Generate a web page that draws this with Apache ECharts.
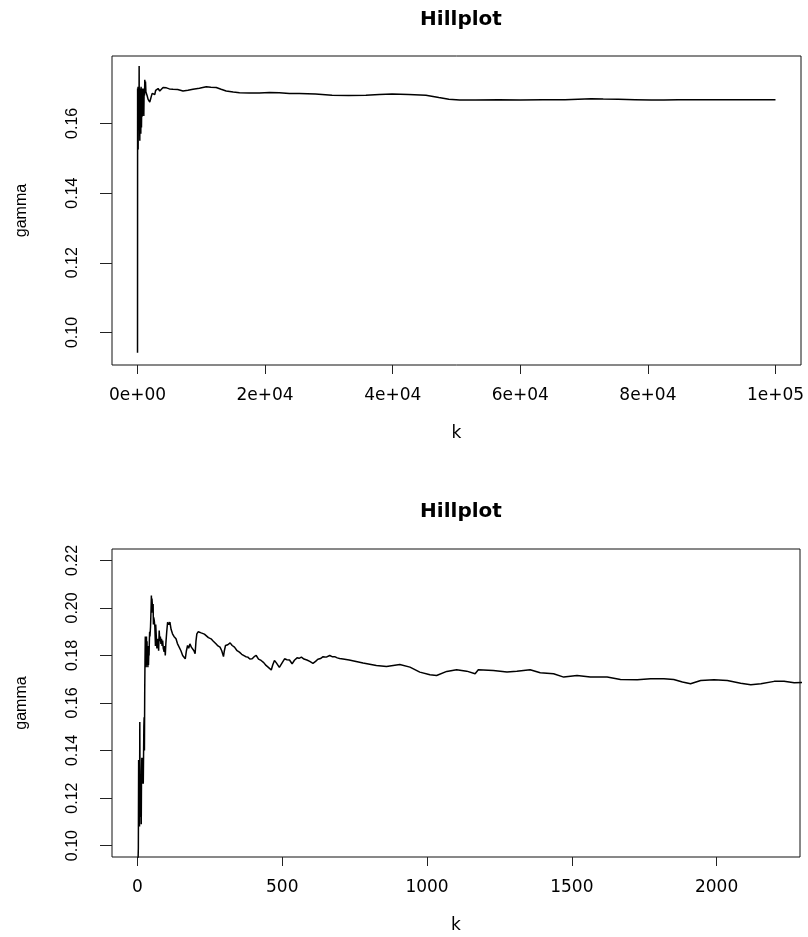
<!DOCTYPE html>
<html>
<head>
<meta charset="utf-8">
<script src="https://cdn.jsdelivr.net/npm/echarts@6/dist/echarts.min.js"></script>
<style>
html,body{margin:0;padding:0;background:#fff;}
#chart{width:808px;height:937px;}
</style>
</head>
<body>
<div id="chart"></div>
<script>
// ---------- data ----------
const titleText = 'Hillplot';
const xName = 'k';
const yName = 'gamma';

// Top panel: k = 1 .. 100000
const topK = [1, 15, 30, 45, 60, 80, 100, 130, 160, 200, 230, 255, 280, 320, 360, 400, 440, 480, 520, 560,
  620, 680, 740, 800, 870, 932, 990, 1040, 1100, 1141, 1200, 1250, 1320, 1401, 1500, 1662, 1800, 1922, 2050, 2182,
  2300, 2443, 2580, 2703, 2850, 2964, 3100, 3224, 3350, 3484, 3700, 4005, 4300, 4526, 5000, 5568, 6300, 7130, 7900, 8692,
  9700, 10776, 11500, 12338, 13100, 13900, 15000, 15984, 17500, 19109, 20700, 22233, 23800, 25358, 27900, 30500, 33100, 35800, 37900, 39900,
  42500, 45200, 47230, 48800, 50500, 53000, 56600, 60000, 63500, 67000, 71140, 73000, 75360, 78000, 80510, 82500, 84730, 88000, 92000, 96000, 100000];
const topGamma = [0.0942, 0.1700, 0.1540, 0.1690, 0.1560, 0.1705, 0.1525, 0.1680, 0.1580, 0.1700, 0.1600, 0.1765, 0.1620, 0.1690, 0.1550, 0.1700, 0.1600, 0.1690, 0.1570, 0.1705,
  0.1588, 0.1680, 0.1620, 0.1700, 0.1650, 0.1690, 0.1621, 0.1700, 0.1680, 0.1725, 0.1700, 0.1720, 0.1690, 0.1688, 0.1680, 0.1669, 0.1665, 0.1661, 0.1670, 0.1679,
  0.1686, 0.1690, 0.1686, 0.1683, 0.1695, 0.1700, 0.1698, 0.1700, 0.1696, 0.1693, 0.1698, 0.1703, 0.1700, 0.1702, 0.1699, 0.1698, 0.1697, 0.1693, 0.1695, 0.1698,
  0.1701, 0.1705, 0.1704, 0.1703, 0.1698, 0.1693, 0.1690, 0.1688, 0.1687, 0.1687, 0.1689, 0.1688, 0.1686, 0.1686, 0.1684, 0.1681, 0.1680, 0.1681, 0.1683, 0.1684,
  0.1683, 0.1681, 0.1674, 0.1669, 0.1667, 0.1667, 0.1668, 0.1667, 0.1668, 0.1668, 0.1671, 0.1670, 0.1669, 0.1668, 0.1667, 0.1667, 0.1668, 0.1668, 0.1668, 0.1668, 0.1668];

// Bottom panel: zoom on k = 0 .. 2200
const botK = [1, 2, 3, 4, 5, 6, 7, 8, 9, 10, 11, 12, 13, 14, 15, 16, 17, 18, 19, 20,
  21, 22, 23, 24, 25, 26, 27, 28, 29, 30, 31, 32, 33, 34, 35, 36, 37, 38, 39, 40,
  41, 42, 43, 45, 47, 48, 49, 50, 52, 54, 55, 56, 58, 60, 62, 63, 65, 67, 69, 71,
  73, 75, 77, 79, 81, 83, 85, 87, 89, 92, 94, 96, 98, 101, 104, 108, 112, 116, 121, 126,
  133, 138, 144, 150, 156, 161, 165, 169, 173, 177, 181, 186, 190, 195, 199, 202, 205, 210, 214, 220,
  225, 231, 237, 245, 254, 262, 271, 278, 285, 291, 297, 300, 304, 312, 320, 327, 335, 344, 352, 360,
  366, 374, 381, 388, 396, 403, 410, 418, 427, 436, 444, 452, 462, 467, 473, 479, 485, 490, 493, 500,
  508, 516, 525, 534, 542, 551, 558, 566, 575, 585, 595, 606, 615, 623, 632, 641, 652, 664, 672, 681,
  690, 698, 710, 731, 779, 825, 860, 906, 941, 975, 1010, 1033, 1068, 1102, 1137, 1166, 1177, 1229, 1276, 1310,
  1356, 1391, 1437, 1472, 1518, 1564, 1622, 1668, 1726, 1772, 1818, 1852, 1882, 1910, 1945, 1991, 2037, 2083, 2118, 2153,
  2199, 2233, 2268, 2300, 2330];
const botGamma = [0.085, 0.094, 0.099, 0.136, 0.118, 0.128, 0.108, 0.152, 0.120, 0.130, 0.112, 0.125, 0.109, 0.131, 0.137, 0.126, 0.135, 0.128, 0.137, 0.126,
  0.138, 0.150, 0.154, 0.140, 0.165, 0.178, 0.188, 0.178, 0.186, 0.175, 0.188, 0.177, 0.186, 0.176, 0.183, 0.175, 0.184, 0.176, 0.181, 0.180,
  0.186, 0.190, 0.188, 0.192, 0.200, 0.2052, 0.198, 0.204, 0.200, 0.2017, 0.193, 0.196, 0.1947, 0.192, 0.184, 0.193, 0.188, 0.183, 0.1828, 0.187,
  0.182, 0.1905, 0.186, 0.188, 0.1849, 0.187, 0.184, 0.1863, 0.183, 0.1815, 0.184, 0.180, 0.185, 0.190, 0.194, 0.193, 0.194, 0.191, 0.1891, 0.188,
  0.187, 0.185, 0.1842, 0.182, 0.180, 0.1795, 0.1786, 0.182, 0.1842, 0.183, 0.1849, 0.1835, 0.1835, 0.182, 0.1807, 0.186, 0.1891, 0.190, 0.1905, 0.1895,
  0.1902, 0.189, 0.1884, 0.1875, 0.187, 0.186, 0.1849, 0.184, 0.1835, 0.182, 0.1795, 0.182, 0.1842, 0.1845, 0.1853, 0.1842, 0.1835, 0.182, 0.1814, 0.1805,
  0.180, 0.1795, 0.1793, 0.1785, 0.1786, 0.1795, 0.180, 0.1785, 0.1779, 0.177, 0.1758, 0.175, 0.1739, 0.176, 0.1779, 0.177, 0.1762, 0.175, 0.1748, 0.177,
  0.1786, 0.1782, 0.1781, 0.1765, 0.178, 0.179, 0.1788, 0.1793, 0.1785, 0.1781, 0.1775, 0.1767, 0.1775, 0.1784, 0.1787, 0.1795, 0.1793, 0.180, 0.1795, 0.1795,
  0.179, 0.1787, 0.1785, 0.1781, 0.1768, 0.1758, 0.1754, 0.1762, 0.1751, 0.173, 0.1719, 0.1716, 0.1733, 0.174, 0.1734, 0.1723, 0.174, 0.1737, 0.173, 0.1734,
  0.174, 0.1727, 0.1723, 0.1709, 0.1716, 0.1709, 0.1709, 0.1699, 0.1698, 0.1702, 0.1702, 0.1699, 0.1688, 0.1681, 0.1695, 0.1698, 0.1695, 0.1683, 0.1677, 0.1681,
  0.1691, 0.1692, 0.1685, 0.1686, 0.1684];

// Tick values and labels
const topXTicks = [0, 20000, 40000, 60000, 80000, 100000];
const topXLabels = ['0e+00', '2e+04', '4e+04', '6e+04', '8e+04', '1e+05'];
const topYTicks = [0.10, 0.12, 0.14, 0.16];
const botXTicks = [0, 500, 1000, 1500, 2000];
const botXLabels = ['0', '500', '1000', '1500', '2000'];
const botYTicks = [0.10, 0.12, 0.14, 0.16, 0.18, 0.20, 0.22];

// ---------- chart ----------
const zip = (a, b) => a.map((v, i) => [v, b[i]]);
const topData = zip(topK, topGamma);
const botData = zip(botK, botGamma);

const hFont = 'DejaVu Sans';
const vFont = 'Liberation Sans';

function xAxisCfg(gridIndex, min, max, ticks, labels) {
  return {
    type: 'value', gridIndex, min, max,
    name: xName, nameLocation: 'middle', nameGap: 60,
    nameTextStyle: { fontFamily: hFont, fontSize: 17, color: '#000' },
    axisLine: { show: false, onZero: false },
    axisTick: { show: true, inside: false, length: 9, customValues: ticks, lineStyle: { color: '#222', width: 1 } },
    axisLabel: { show: true, customValues: ticks, margin: 22, fontFamily: hFont, fontSize: 17, color: '#000',
      formatter: v => { const i = ticks.findIndex(t => Math.abs(t - v) < 1e-9); return i >= 0 ? labels[i] : ''; } },
    splitLine: { show: false }
  };
}
function yAxisCfg(gridIndex, min, max, ticks) {
  return {
    type: 'value', gridIndex, min, max,
    name: yName, nameLocation: 'middle', nameGap: 82,
    nameTextStyle: { fontFamily: vFont, fontSize: 16, color: '#000' },
    axisLine: { show: false, onZero: false },
    axisTick: { show: true, inside: false, length: 12, customValues: ticks, lineStyle: { color: '#222', width: 1 } },
    axisLabel: { show: true, customValues: ticks, rotate: 90, margin: 31, fontFamily: vFont, fontSize: 16, color: '#000',
      formatter: v => v.toFixed(2) },
    splitLine: { show: false }
  };
}

const chart = echarts.init(document.getElementById('chart'), null, { renderer: 'canvas' });
chart.setOption({
  animation: false,
  backgroundColor: '#fff',
  title: [
    { text: titleText, left: 456, top: 5, textAlign: 'center',
      textStyle: { fontFamily: hFont, fontWeight: 'bold', fontSize: 20, color: '#000' } },
    { text: titleText, left: 456, top: 497, textAlign: 'center',
      textStyle: { fontFamily: hFont, fontWeight: 'bold', fontSize: 20, color: '#000' } }
  ],
  grid: [
    { left: 112, right: 7, top: 56, height: 309, show: true, borderColor: '#111', borderWidth: 1, backgroundColor: 'transparent' },
    { left: 112, right: 8, top: 549, height: 308, show: true, borderColor: '#111', borderWidth: 1, backgroundColor: 'transparent' }
  ],
  xAxis: [
    xAxisCfg(0, -3999, 103999, topXTicks, topXLabels),
    xAxisCfg(1, -88, 2288, botXTicks, botXLabels)
  ],
  yAxis: [
    yAxisCfg(0, 0.09066, 0.17934, topYTicks),
    yAxisCfg(1, 0.0952, 0.2248, botYTicks)
  ],
  series: [
    { type: 'line', xAxisIndex: 0, yAxisIndex: 0, data: topData, showSymbol: false, symbol: 'none',
      clip: true, lineStyle: { color: '#000', width: 1.5 } },
    { type: 'line', xAxisIndex: 1, yAxisIndex: 1, data: botData, showSymbol: false, symbol: 'none',
      clip: true, lineStyle: { color: '#000', width: 1.5 } }
  ]
});
</script>
</body>
</html>
